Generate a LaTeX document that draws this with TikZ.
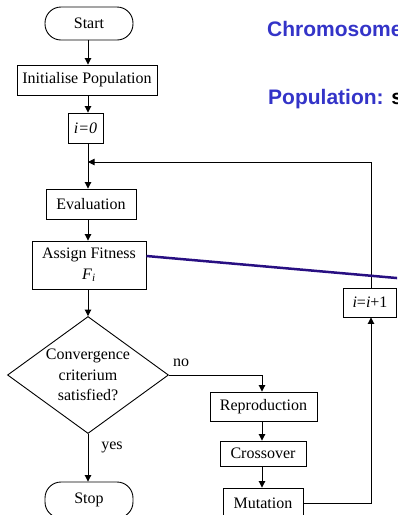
\documentclass[tikz,border=0pt]{standalone}
\usepackage{fontspec}
\setmainfont{Liberation Serif}
\newfontfamily\headsans{Liberation Sans}
\usetikzlibrary{arrows.meta,shapes.geometric}
\definecolor{headblue}{RGB}{52,52,200}
\definecolor{linkblue}{RGB}{40,15,130}
\begin{document}
\begin{tikzpicture}[x=1pt,y=-1pt,
  every node/.style={font=\fontsize{16}{20.5}\selectfont, inner sep=0pt},
  box/.style={draw, line width=0.9pt, rectangle},
  term/.style={draw, line width=0.9pt, rectangle, rounded corners=16pt},
  flow/.style={line width=0.9pt, -{Triangle[length=6.5pt,width=6.5pt]}},
  lbl/.style={font=\fontsize{16}{20}\selectfont},
  head/.style={anchor=base west, font=\headsans\bfseries\fontsize{21}{25}\selectfont, text=headblue}]
\useasboundingbox (0,0) rectangle (397,515);
\clip (0,0) rectangle (397,515);

% headings
\node[head] (chromo) at (267,36) {Chromosome};
\node[head] (popu) at (268,104) {Population: \textcolor{black}{s}};

% main column
\node[term, minimum width=88pt, minimum height=33pt] (start) at (89,23.5) {Start};
\node[box, minimum width=140pt, minimum height=30pt] (init) at (87,80) {Initialise Population};
\node[box, minimum width=35pt, minimum height=30pt] (izero) at (85.5,128) {\textit{i=0}};
\node[box, minimum width=90pt, minimum height=30pt] (eval) at (91,204) {Evaluation};
\node[box, minimum width=114pt, minimum height=48pt, align=center] (assign) at (89,265)
  {Assign Fitness\\\textit{F}\textsubscript{\textit{i}}};
\node[draw, diamond, aspect=1.376, minimum width=161pt, minimum height=117pt,
  inner sep=-8pt, align=center, line width=0.9pt] (conv) at (88,375)
  {Convergence\\criterium\\satisfied?};
\node[term, minimum width=88pt, minimum height=36pt] (stop) at (89,500) {Stop};

% operator column
\node[box, minimum width=107pt, minimum height=29pt] (repro) at (263.5,406.5) {Reproduction};
\node[box, minimum width=86pt, minimum height=25pt] (cross) at (263,453.5) {Crossover};
\node[box, minimum width=80pt, minimum height=30pt] (mut) at (263,503) {Mutation};
\node[box, minimum width=53pt, minimum height=29pt] (inc) at (370,302.5) {\textit{i}=\textit{i}+1};

% routing guides
\coordinate (spine) at (88,0);
\coordinate (col) at (262,0);
\coordinate (loop) at (371,0);
\coordinate (back) at (371,162);
\coordinate (merge) at (88,162);

% connectors
\draw[flow] (start.south -| spine) -- (init.north -| spine);
\draw[flow] (init.south -| spine) -- (izero.north -| spine);
\draw[flow] (izero.south -| spine) -- (eval.north -| spine);
\draw[flow] (eval.south -| spine) -- (assign.north -| spine);
\draw[flow] (assign.south -| spine) -- (conv.north);
\draw[flow] (conv.south) -- (stop.north -| spine);
\draw[flow] (conv.east) -| (repro.north -| col);
\draw[flow] (repro.south -| col) -- (cross.north -| col);
\draw[flow] (cross.south -| col) -- (mut.north -| col);
\draw[flow] (mut.east) -| (inc.south -| loop);
\draw[flow] (inc.north -| loop) -- (back) -- (merge);

% branch labels
\node[lbl] (nolbl) at (181,363) {no};
\node[lbl] (yeslbl) at (112,447) {yes};

% fitness pointer
\coordinate (blueend) at (400,278.3);
\draw[linkblue, line width=2.5pt] ([yshift=9pt]assign.east) -- (blueend);
\end{tikzpicture}
\end{document}
